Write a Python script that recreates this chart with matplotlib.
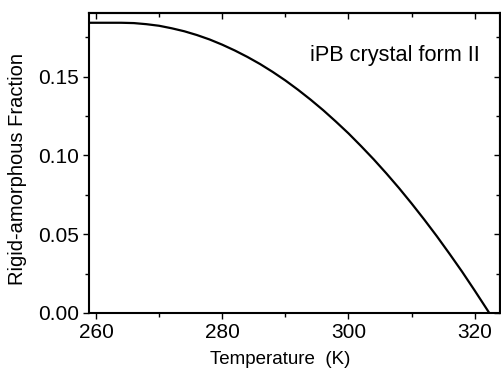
import matplotlib
matplotlib.use("Agg")
import matplotlib.pyplot as plt
from matplotlib.ticker import MultipleLocator, FormatStrFormatter, NullFormatter

plt.rcParams['font.family'] = ['Liberation Sans', 'DejaVu Sans']

# Data
temperature = [258.9, 262.0, 264.0, 266.0, 268.0, 270.0, 272.0, 274.0, 276.0,
               278.0, 280.0, 282.0, 284.0, 286.0, 288.0, 290.0, 292.0, 294.0,
               296.0, 298.0, 300.0, 302.0, 304.0, 306.0, 308.0, 310.0, 312.0,
               314.0, 316.0, 318.0, 320.0, 322.0, 322.3]
fraction = [0.1842, 0.1842, 0.1842, 0.1840, 0.1833, 0.1823, 0.1807, 0.1788, 0.1764,
            0.1736, 0.1703, 0.1666, 0.1625, 0.1580, 0.1530, 0.1476, 0.1417, 0.1354,
            0.1287, 0.1215, 0.1140, 0.1059, 0.0975, 0.0886, 0.0793, 0.0695, 0.0593,
            0.0487, 0.0376, 0.0262, 0.0142, 0.0019, 0.0]

x_major = [260, 280, 300, 320]
y_major = [0.00, 0.05, 0.10, 0.15]
annotation = "iPB crystal form II"
xlabel = "Temperature  (K)"
ylabel = "Rigid-amorphous Fraction"

fig = plt.figure(figsize=(5.02, 3.69), dpi=100)
ax = fig.add_axes([89/502, 1-313/369, (500-89)/502, 300/369])

ax.plot(temperature, fraction, color='black', lw=1.6, solid_capstyle='butt')

ax.set_xlim(258.9, 324.0)
ax.set_ylim(0.0, 0.1904)
ax.set_xticks(x_major)
ax.set_yticks(y_major)
ax.xaxis.set_minor_locator(MultipleLocator(10))
ax.yaxis.set_minor_locator(MultipleLocator(0.025))
ax.yaxis.set_major_formatter(FormatStrFormatter('%.2f'))
ax.tick_params(which='major', direction='out', length=4, width=1.0, labelsize=15, pad=3)
ax.tick_params(which='minor', direction='out', length=3, width=1.0)

for s in ax.spines.values():
    s.set_linewidth(1.5)

secx = ax.secondary_xaxis('top')
secx.set_xticks(x_major)
secx.xaxis.set_minor_locator(MultipleLocator(10))
secx.xaxis.set_major_formatter(NullFormatter())
secx.tick_params(which='major', direction='in', length=4, width=1.0)
secx.tick_params(which='minor', direction='in', length=3, width=1.0)
secx.spines['top'].set_linewidth(1.5)

secy = ax.secondary_yaxis('right')
secy.set_yticks(y_major)
secy.yaxis.set_minor_locator(MultipleLocator(0.025))
secy.yaxis.set_major_formatter(NullFormatter())
secy.tick_params(which='major', direction='in', length=4, width=1.0)
secy.tick_params(which='minor', direction='in', length=3, width=1.0)
secy.spines['right'].set_linewidth(1.5)

ax.set_xlabel(xlabel, fontsize=13.5)
ax.xaxis.set_label_coords(0.466, -0.125)
ax.set_ylabel(ylabel, fontsize=14.5, va='center', ha='center')
ax.yaxis.set_label_coords((18-89)/411, 0.48)

ax.text((480-89)/411, (313-61.5)/300, annotation, transform=ax.transAxes,
        ha='right', va='baseline', fontsize=15.7)

fig.savefig('out.png', dpi=100)
